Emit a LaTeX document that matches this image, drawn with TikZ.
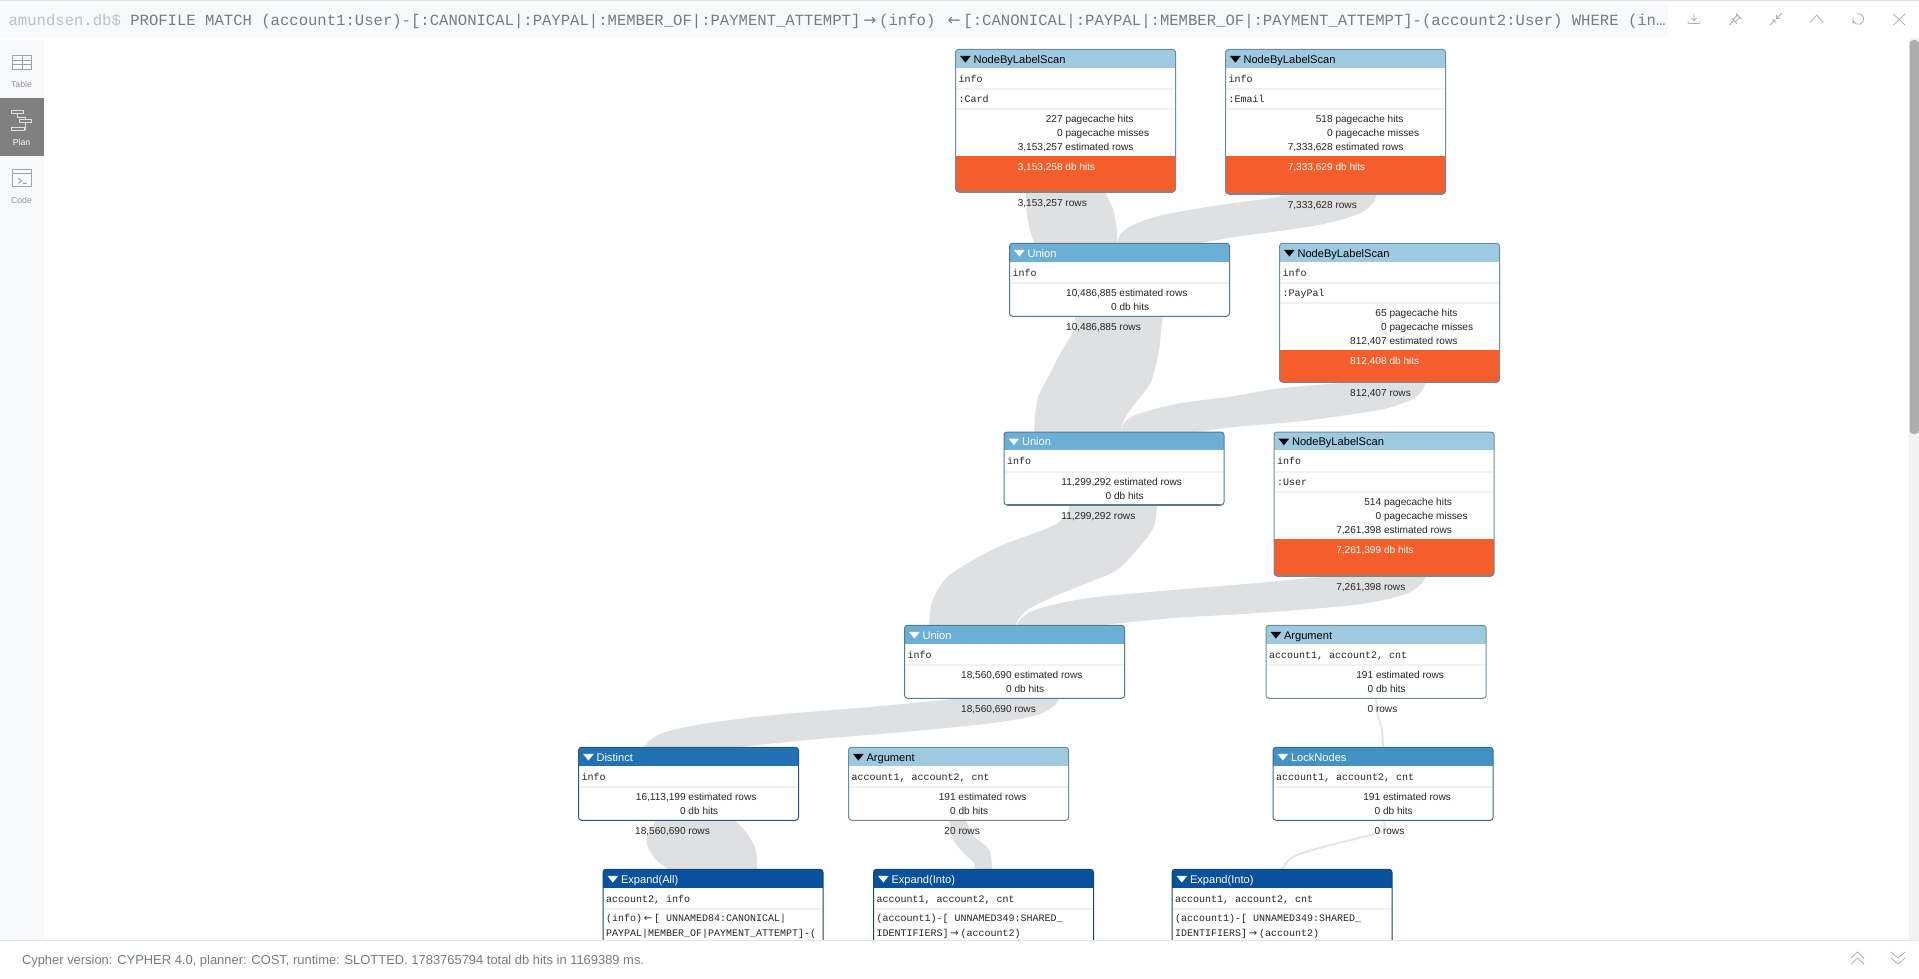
\documentclass[tikz,border=0pt]{standalone}
\usepackage{fontspec}
\setmainfont{Liberation Sans}
\newfontfamily\monof{Liberation Mono}
\newfontfamily\arrowf{DejaVu Sans}
\usetikzlibrary{calc}
\pgfdeclarelayer{bg}
\pgfsetlayers{bg,main}
\definecolor{cScan}{HTML}{9ECAE1}
\definecolor{cUnion}{HTML}{6BAED6}
\definecolor{cLock}{HTML}{4292C6}
\definecolor{cDist}{HTML}{2171B5}
\definecolor{cExp}{HTML}{08519C}
\definecolor{cHot}{HTML}{F55D2B}
\definecolor{cFlow}{HTML}{DFE0E2}
\definecolor{cSep}{HTML}{F1F2F3}
\definecolor{cBar}{HTML}{F8F9FB}
\definecolor{cCmd}{HTML}{767C84}
\definecolor{cPrompt}{HTML}{BCC1C7}
\definecolor{cIcon}{HTML}{ABADB0}
\definecolor{cSideIcon}{HTML}{A0A2A5}
\definecolor{cInk}{HTML}{262626}
\newcounter{tn}
\tikzset{
  opbody/.style={rectangle,inner sep=0pt,outer sep=0pt,anchor=north west,minimum width=220pt,fill=white},
  flow/.style={fill=cFlow,draw=none},
  thinflow/.style={draw=cFlow!85!white,line width=1.9pt,fill=none},
  stat/.style={anchor=base west,inner sep=0pt,outer sep=0pt,text=cInk,font=\fontsize{10.1pt}{12pt}\selectfont},
  mono/.style={anchor=base west,inner sep=0pt,outer sep=0pt,text=cInk,font=\monof\fontsize{10pt}{12pt}\selectfont},
  headt/.style={anchor=base west,inner sep=0pt,outer sep=0pt,font=\fontsize{11.1pt}{13pt}\selectfont},
  side/.style={anchor=center,inner sep=0pt,outer sep=0pt,font=\fontsize{8.7pt}{11pt}\selectfont},
  icon/.style={draw=cIcon,line width=0.75pt,fill=none},
  sideicon/.style={draw=#1,line width=0.9pt,fill=none},
}
\newcommand{\tx}[4]{\stepcounter{tn}\node[#1] (t\arabic{tn}) at (#2,#3) {#4};}
% frame: name,x,top,bottom,colour,title colour,title
\newcommand{\frameop}[7]{%
  \node[opbody,minimum height={(#4-#3)*1pt}] (#1) at (#2,#3) {};
  \begin{scope}
    \clip[rounded corners=3pt] (#2,#3) rectangle (#2+220,#4);
    \fill[#5] (#2,#3) rectangle (#2+220,#3+18.4);
  \end{scope}
  \fill[#6] (#2+4.5,#3+6.6) -- (#2+15.2,#3+6.6) -- (#2+9.85,#3+13.2) -- cycle;
  \tx{headt,text=#6}{#2+18}{#3+13.9}{#7}
}
\newcommand{\edgeop}[5]{% x,top,bottom,colour
  \draw[#4!70!black!85!gray,line width=1pt,rounded corners=3pt] (#1,#2) rectangle (#1+220,#3);
  \draw[#4!70!black!85!gray,line width=1.5pt] (#1+3,#3) -- (#1+217,#3);
}
\newcommand{\numunit}[6]{\tx{stat,text=#5}{#1+110}{#2+3.6}{\llap{#3\ }#4}}
% name,x,top,bottom,label,hits,est,db,rows
\newcommand{\scanop}[9]{%
  \frameop{#1}{#2}{#3}{#4}{cScan}{black}{NodeByLabelScan}
  \begin{scope}
    \clip[rounded corners=3pt] (#2,#3) rectangle (#2+220,#4);
    \fill[cHot] (#2,#3+106.5) rectangle (#2+220,#4);
  \end{scope}
  \fill[cSep] (#2,#3+39) rectangle (#2+220,#3+41);
  \fill[cSep] (#2,#3+59) rectangle (#2+220,#3+61);
  \tx{mono}{#2+3}{#3+32.8}{info}
  \tx{mono}{#2+3}{#3+53}{#5}
  \numunit{#2}{#3+69.4}{#6}{pagecache hits}{cInk}{}
  \numunit{#2}{#3+83.4}{0}{pagecache misses}{cInk}{}
  \numunit{#2}{#3+97.4}{#7}{estimated rows}{cInk}{}
  \numunit{#2}{#3+117.4}{#8}{db hits}{white}{}
  \numunit{#2}{#4+10.6}{#9}{rows}{cInk}{}
  \edgeop{#2}{#3}{#4}{cScan}{}
}
% name,x,top,colour,titlecolour,title,vars,est,rows
\newcommand{\plainop}[9]{%
  \frameop{#1}{#2}{#3}{#3+73}{#4}{#5}{#6}
  \fill[cSep] (#2,#3+39) rectangle (#2+220,#3+41);
  \tx{mono}{#2+3}{#3+32.8}{#7}
  \numunit{#2}{#3+49.4}{#8}{estimated rows}{cInk}{}
  \numunit{#2}{#3+63.4}{0}{db hits}{cInk}{}
  \numunit{#2}{#3+83.4}{#9}{rows}{cInk}{}
  \edgeop{#2}{#3}{#3+73}{#4}{}
}
% name,x,top,title,vars,line1,line2
\newcommand{\expandop}[7]{%
  \frameop{#1}{#2}{#3}{975}{cExp}{white}{#4}
  \fill[cSep] (#2,#3+39) rectangle (#2+220,#3+41);
  \tx{mono}{#2+3}{#3+32.8}{#5}
  \tx{mono}{#2+3}{#3+52.6}{#6}
  \tx{mono}{#2+3}{#3+66.8}{#7}
  \edgeop{#2}{#3}{975}{cExp}{}
}
\newcommand{\rar}{\makebox[1.2em]{\arrowf →}}
\newcommand{\lar}{\makebox[1.2em]{\arrowf ←}}
\begin{document}
\begin{tikzpicture}[x=1pt,y=-1pt]
\useasboundingbox (0,0) rectangle (1919,979);
\begin{pgfonlayer}{bg}
  \fill[white] (0,0) rectangle (1919,979);
\end{pgfonlayer}

% operators
\scanop{card}{955.5}{49.4}{192}{:Card}{227}{3,153,257}{3,153,258}{3,153,257}
\scanop{email}{1225.5}{49.4}{194}{:Email}{518}{7,333,628}{7,333,629}{7,333,628}
\plainop{unionA}{1009.5}{243.3}{cUnion}{white}{Union}{info}{10,486,885}{10,486,885}
\scanop{paypal}{1279.5}{243.3}{382.3}{:PayPal}{65}{812,407}{812,408}{812,407}
\plainop{unionB}{1004}{432}{cUnion}{white}{Union}{info}{11,299,292}{11,299,292}
\scanop{user}{1274}{432}{576}{:User}{514}{7,261,398}{7,261,399}{7,261,398}
\plainop{unionC}{904.5}{625.3}{cUnion}{white}{Union}{info}{18,560,690}{18,560,690}
\plainop{argR}{1266}{625.3}{cScan}{black}{Argument}{account1, account2, cnt}{191}{0}
\plainop{distinct}{578.5}{747.3}{cDist}{white}{Distinct}{info}{16,113,199}{18,560,690}
\plainop{argM}{848.5}{747.3}{cScan}{black}{Argument}{account1, account2, cnt}{191}{20}
\plainop{lock}{1273}{747.3}{cLock}{white}{LockNodes}{account1, account2, cnt}{191}{0}
\expandop{expA}{603}{869.3}{Expand(All)}{account2, info}{(info)\lar[ UNNAMED84:CANONICAL|}{PAYPAL|MEMBER\_OF|PAYMENT\_ATTEMPT]-(}
\expandop{expB}{873.5}{869.3}{Expand(Into)}{account1, account2, cnt}{(account1)-[ UNNAMED349:SHARED\_}{IDENTIFIERS]\rar(account2)}
\expandop{expC}{1172}{869.3}{Expand(Into)}{account1, account2, cnt}{(account1)-[ UNNAMED349:SHARED\_}{IDENTIFIERS]\rar(account2)}

% flows
\begin{pgfonlayer}{bg}
\fill[flow] plot[smooth,tension=.55] coordinates {([xshift=70.5pt]card.south west) (1026.7,213) (1030,230) ([xshift=25pt]unionA.north west)}
  -- plot[smooth,tension=.55] coordinates {([xshift=107.8pt]unionA.north west) (1116.7,230) (1113.3,210) ([xshift=149.5pt]card.south west)} -- cycle;
\fill[flow] plot[smooth,tension=.55] coordinates {([xshift=67.5pt]email.south west) (1270,198.3) (1220,205) (1163,215) (1133,225) (1120,235) ([xshift=108pt]unionA.north west)}
  -- plot[smooth,tension=.55] coordinates {([xshift=190.5pt]unionA.north west) (1236.7,236.7) (1286.7,230) (1326.7,223.3) (1360,213.3) (1373,203) ([xshift=151.2pt]email.south west)} -- cycle;
\fill[flow] plot[smooth,tension=.55] coordinates {([xshift=65.5pt]unionA.south west) (1074,330) (1061,352) (1046.7,380) (1038.3,396.7) (1035,416.7) ([xshift=30.3pt]unionB.north west)}
  -- plot[smooth,tension=.55] coordinates {([xshift=116.5pt]unionB.north west) (1123.3,421.7) (1130,410) (1143.3,393.3) (1151.7,380) (1159,350) ([xshift=153pt]unionA.south west)} -- cycle;
\fill[flow] plot[smooth,tension=.55] coordinates {([xshift=71.5pt]paypal.south west) (1280,388.3) (1230,396.7) (1180,403.3) (1140,413.3) (1125,421.7) ([xshift=116.8pt]unionB.north west)}
  -- plot[smooth,tension=.55] coordinates {([xshift=191pt]unionB.north west) (1236.7,426.7) (1296.7,421.7) (1346.7,415) (1386.7,408.3) (1416.7,396.7) ([xshift=146pt]paypal.south west)} -- cycle;
\fill[flow] plot[smooth,tension=.55] coordinates {([xshift=66pt]unionB.south west) (1065,517) (1048,528) (998,547) (956.7,570) (941.7,583.3) (931.7,603.3) ([xshift=24.5pt]unionC.north west)}
  -- plot[smooth,tension=.55] coordinates {([xshift=111.5pt]unionC.north west) (1020,616.7) (1030,608.3) (1053.3,596.7) (1086.7,583.3) (1116.7,570) (1136.7,550) (1153.6,527) ([xshift=153pt]unionB.south west)} -- cycle;
\fill[flow] plot[smooth,tension=.55] coordinates {([xshift=56pt]user.south west) (1253.3,583.3) (1153.3,591.7) (1086.7,598.3) (1040,608.3) (1023.3,616.7) (1017.6,623.5) ([xshift=113pt]unionC.north west)}
  -- plot[smooth,tension=.55] coordinates {([xshift=195.5pt]unionC.north west) (1170,618.3) (1253.3,613.3) (1353.3,605) (1403,595) (1421.7,583.3) ([xshift=151.2pt]user.south west)} -- cycle;
\fill[flow] plot[smooth,tension=.55] coordinates {([xshift=55.5pt]unionC.south west) (873.3,706.7) (773.3,715) (706.7,723.3) (666.7,731.7) (650,740) ([xshift=66.5pt]distinct.north west)}
  -- plot[smooth,tension=.55] coordinates {([xshift=158.2pt]distinct.north west) (806.7,740) (906.7,731.7) (990,723.3) (1036.7,715) (1055,705) ([xshift=153.8pt]unionC.south west)} -- cycle;
\fill[flow] plot[smooth,tension=.55] coordinates {([xshift=77.5pt]distinct.south west) (646.3,840) (654.7,858.3) ([xshift=65.6pt]expA.north west)}
  -- plot[smooth,tension=.55] coordinates {([xshift=154pt]expA.north west) (755.7,850) (747,833.3) ([xshift=156pt]distinct.south west)} -- cycle;
\fill[flow] plot[smooth,tension=.55] coordinates {([xshift=100.8pt]argM.south west) (953.5,840) (964,853.3) (974.6,863.3) ([xshift=101pt]expB.north west)}
  -- plot[smooth,tension=.55] coordinates {([xshift=118.3pt]expB.north west) (989.3,850) (974.6,836.7) ([xshift=117.5pt]argM.south west)} -- cycle;
\draw[thinflow] plot[smooth,tension=.55] coordinates {([xshift=110pt]argR.south west) (1377.4,713.3) (1382,730) ([xshift=110pt]lock.north west)};
\draw[thinflow] plot[smooth,tension=.55] coordinates {([xshift=110pt]lock.south west) (1380,831.7) (1324,846.7) (1293.3,856.7) ([xshift=110pt]expC.north west)};
\end{pgfonlayer}

% top bar
\fill[cBar] (0,4) rectangle (1668,37);
\fill[black!13] (0,0) rectangle (1919,1);
\node[anchor=base west,inner sep=0pt,outer sep=0pt,font=\monof\fontsize{15.6pt}{18pt}\selectfont,text=cCmd] (command) at (8.6,26) {\textcolor{cPrompt}{amundsen.db\$} PROFILE MATCH (account1:User)-[:CANONICAL|:PAYPAL|:MEMBER\_OF|:PAYMENT\_ATTEMPT]\rar(info) \lar[:CANONICAL|:PAYPAL|:MEMBER\_OF|:PAYMENT\_ATTEMPT]-(account2:User) WHERE (in…};
% top icons
\draw[icon] (1694,14) -- (1694,20.5) (1691.5,18) -- (1694,20.5) -- (1696.5,18) (1688,21) .. controls (1688,23.5) and (1688,23.5) .. (1690,23.5) -- (1698,23.5) .. controls (1700,23.5) and (1700,23.5) .. (1700,21);
\draw[icon] (1729.5,25) -- (1734,20) (1731.5,18) -- (1737,23.5) (1733,19.5) -- (1737,15.5) (1735.5,21.5) -- (1739.5,18) (1736,13.5) -- (1741,18.5) -- (1739.5,18) (1736,13.5) -- (1737,15.5);
\draw[icon] (1770,25) -- (1775,20) (1771.5,20) -- (1775,20) -- (1775,23.5) (1781.7,13.3) -- (1776.5,18.5) (1776.5,15) -- (1776.5,18.5) -- (1780,18.5);
\draw[icon] (1810,22.7) -- (1816.7,15) -- (1823.3,22.7);
\draw[icon] (1858.3,19) ++(-110:5.5) arc[start angle=-110,end angle=195,radius=5.5];
\draw[icon] (1853,20.5) -- (1853,23) -- (1855.5,22);
\draw[icon] (1893.3,14) -- (1905,25) (1905,14) -- (1893.3,25);

% sidebar
\fill[cBar] (0,40) rectangle (44,940);
\fill[black!50] (0,98) rectangle (44,156);
\draw[sideicon=cSideIcon] (12.5,55) rectangle (31.5,69) (12.5,60) -- (31.5,60) (12.5,64.7) -- (31.5,64.7) (22,55) -- (22,69);
\tx{side,text=black!42}{21.5}{84}{Table}
\draw[sideicon=white!88!black] (11,110) rectangle (23.3,113.3) (19.3,119.3) rectangle (31.7,122.7) (11,127.3) rectangle (24,130.7);
\draw[sideicon=white!88!black] (17,113.3) -- (17,117) -- (25,117) -- (25,119.3) (25,122.7) -- (25,129) -- (24,129);
\tx{side,text=white}{21.5}{142.7}{Plan}
\draw[sideicon=cSideIcon] (12.5,169.5) rectangle (31.5,186) (12.5,173.5) -- (31.5,173.5);
\draw[sideicon=cSideIcon] (18.3,178.3) -- (21.7,180.7) -- (18.3,183.3) (22.7,183.3) -- (26.7,183.3);
\tx{side,text=black!42}{21.5}{200}{Code}

% scrollbar
\fill[black!5] (1909,38) rectangle (1919,940);
\fill[black!32,rounded corners=4pt] (1909.5,40) rectangle (1919,434);

% bottom bar
\fill[white] (0,940) rectangle (1919,979);
\fill[black!10] (0,939.5) rectangle (1919,940.5);
\node[anchor=base west,inner sep=0pt,outer sep=0pt,font=\fontsize{12.93pt}{15pt}\selectfont,text=cCmd] (footer) at (22,964.5) {Cypher version: CYPHER 4.0, planner: COST, runtime: SLOTTED. 1783765794 total db hits in 1169389 ms.};
\draw[icon] (1851,958) -- (1857.5,952) -- (1864,958) (1851,964) -- (1857.5,958) -- (1864,964);
\draw[icon] (1891,952) -- (1898,958) -- (1905,952) (1891,958) -- (1898,964) -- (1905,958);
\end{tikzpicture}
\end{document}
